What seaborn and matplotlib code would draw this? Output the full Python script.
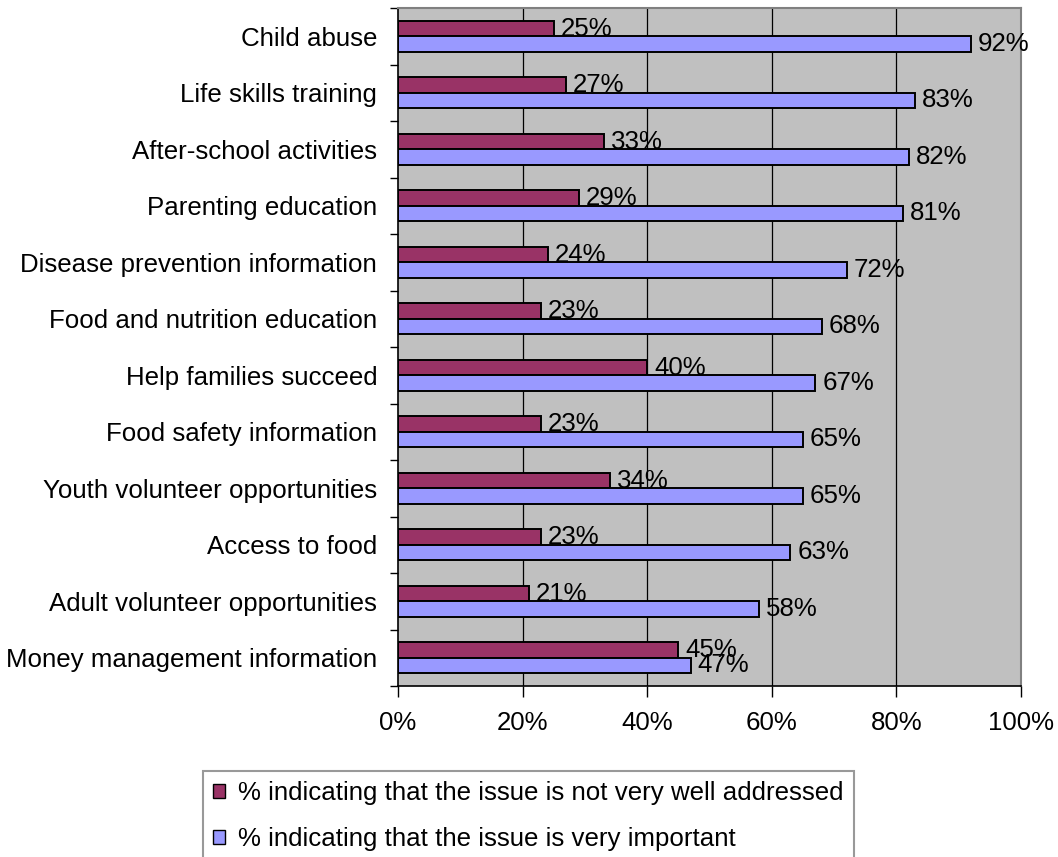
import matplotlib
matplotlib.use("Agg")
import matplotlib.pyplot as plt
import seaborn as sns
import pandas as pd
import numpy as np
from matplotlib.patches import Patch
from matplotlib.ticker import FixedLocator, PercentFormatter

categories = [
    "Child abuse",
    "Life skills training",
    "After-school activities",
    "Parenting education",
    "Disease prevention information",
    "Food and nutrition education",
    "Help families succeed",
    "Food safety information",
    "Youth volunteer opportunities",
    "Access to food",
    "Adult volunteer opportunities",
    "Money management information",
]
not_well_addressed = [25, 27, 33, 29, 24, 23, 40, 23, 34, 23, 21, 45]
very_important = [92, 83, 82, 81, 72, 68, 67, 65, 65, 63, 58, 47]
series_names = [
    "% indicating that the issue is not very well addressed",
    "% indicating that the issue is very important",
]
colors = ["#993366", "#9999FF"]
x_ticks = [0, 20, 40, 60, 80, 100]

sns.set_theme(style="white", rc={
    "text.color": "black", "axes.labelcolor": "black",
    "xtick.color": "black", "ytick.color": "black",
})
plt.rcParams["font.family"] = ["Liberation Sans", "DejaVu Sans"]
FS = 18.6

df = pd.DataFrame({
    "category": categories * 2,
    "value": not_well_addressed + very_important,
    "series": [series_names[0]] * len(categories) + [series_names[1]] * len(categories),
})

fig = plt.figure(figsize=(10.58, 8.57), dpi=100)
ax = fig.add_axes([398 / 1058, 1 - 686 / 857, (1021 - 398) / 1058, (686 - 8) / 857])

sns.barplot(
    data=df, x="value", y="category", hue="series", order=categories,
    hue_order=series_names, palette=colors, orient="h", width=0.54,
    edgecolor="black", linewidth=1.4, saturation=1, ax=ax, legend=False,
)

ax.set_facecolor("#C0C0C0")
ax.set_xlim(0, 100)
ax.set_ylim(len(categories) - 0.5, -0.5)
ax.set_xlabel("")
ax.set_ylabel("")

for x in x_ticks[1:-1]:
    ax.axvline(x, color="black", linewidth=0.9, zorder=0)

for container in ax.containers:
    ax.bar_label(container, fmt="%d%%", padding=5, fontsize=FS, color="black")

ax.set_xticks(x_ticks)
ax.xaxis.set_major_formatter(PercentFormatter(decimals=0))
ax.tick_params(axis="x", length=8, width=1, color="black", pad=10, labelsize=FS,
               labelcolor="black", direction="out", bottom=True)
ax.tick_params(axis="y", which="major", length=0, pad=15, labelsize=FS, labelcolor="black")
ax.yaxis.set_minor_locator(FixedLocator(np.arange(-0.5, len(categories) + 0.5, 1)))
ax.tick_params(axis="y", which="minor", length=6, width=1, color="black", direction="out", left=True)

for side in ["top", "right"]:
    ax.spines[side].set_color("#808080")
    ax.spines[side].set_linewidth(1.5)
for side in ["left", "bottom"]:
    ax.spines[side].set_color("black")
    ax.spines[side].set_linewidth(1.2)

handles = [Patch(facecolor=c, edgecolor="black", linewidth=1.0) for c in colors]
leg = fig.legend(
    handles, series_names, loc="upper left",
    bbox_to_anchor=(203 / 1058, 1 - 771 / 857), bbox_transform=fig.transFigure,
    fontsize=FS, frameon=True, fancybox=False, handlelength=0.45, handleheight=0.45,
    handletextpad=0.5, labelspacing=0.85, borderpad=0.4, borderaxespad=0,
)
leg.get_frame().set_edgecolor("#808080")
leg.get_frame().set_linewidth(1.5)

fig.savefig("out.png", dpi=100)
